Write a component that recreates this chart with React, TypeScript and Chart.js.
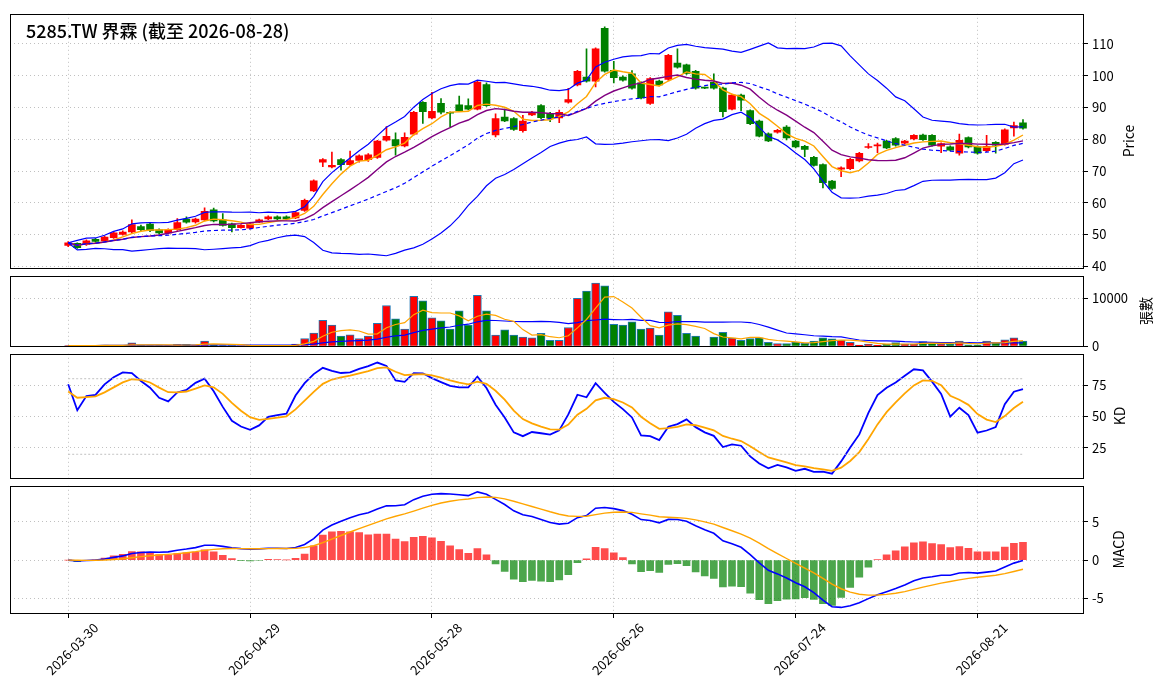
import React, { useEffect, useRef } from 'react';
import { Chart, registerables } from 'chart.js';
Chart.register(...registerables);

const tickLabels = ['2026-03-30', '2026-04-29', '2026-05-28', '2026-06-26', '2026-07-24', '2026-08-21'];
const opens = [46.6,47.2,46.9,48.5,48.0,49.0,50.0,50.8,52.5,53.3,51.5,50.5,51.5,54.9,54.0,54.6,57.8,54.6,53.4,52.2,52.0,53.9,54.9,55.6,55.6,55.2,57.6,63.7,72.8,71.3,73.6,72.0,73.3,73.6,74.3,79.7,79.9,77.9,81.6,91.6,86.7,91.3,88.4,90.8,90.6,89.5,97.2,81.4,87.0,86.5,82.7,87.7,90.6,88.2,86.7,91.7,97.1,99.6,98.3,114.9,101.7,99.6,100.6,97.8,91.3,98.3,98.8,104.0,103.4,101.4,96.2,97.9,96.1,89.5,93.9,89.0,85.7,81.7,82.2,83.8,79.4,77.8,74.3,72.0,66.8,70.6,70.7,73.2,77.4,77.9,79.4,80.2,78.8,80.1,81.3,81.2,77.8,77.6,75.6,80.5,77.6,76.4,79.0,78.4,83.6,85.2];
const closes = [47.4,45.9,48.0,47.8,49.2,50.5,50.8,53.1,51.5,51.2,50.5,51.5,53.8,53.9,54.9,57.3,54.3,52.9,52.2,52.9,53.4,54.6,55.6,54.9,54.9,56.9,60.8,66.9,73.6,71.8,72.0,73.3,74.8,75.1,79.4,80.9,77.9,80.6,88.5,88.7,88.8,88.5,88.2,89.0,89.5,98.0,90.6,86.5,85.8,83.1,85.7,88.5,86.8,86.6,88.5,92.5,101.4,98.3,108.5,101.4,99.4,98.6,96.1,93.0,99.1,97.1,106.4,102.7,100.7,96.1,96.1,96.1,88.7,93.9,92.3,84.9,81.0,79.5,82.8,80.4,77.6,76.8,71.8,66.3,64.5,71.0,73.7,75.6,77.7,78.1,77.3,78.1,79.4,81.2,79.9,78.1,78.6,76.6,79.7,77.6,75.6,77.8,78.1,83.0,84.3,83.5];
const highs = [47.8,47.4,48.3,48.8,49.5,50.9,51.2,54.6,53.0,53.6,51.8,51.8,55.0,55.6,55.2,58.4,58.3,56.6,53.6,53.1,53.6,54.9,55.9,55.9,55.9,57.2,61.2,67.2,73.9,76.0,73.9,76.3,75.1,75.5,79.7,84.0,82.0,82.0,88.8,91.9,94.8,92.8,88.6,93.6,92.7,98.3,97.8,88.0,89.5,86.8,87.5,88.8,90.9,88.5,89.2,96.0,101.7,108.5,108.8,115.4,104.5,100.0,101.6,98.1,99.4,98.6,106.7,108.5,103.7,101.7,96.4,100.6,96.4,94.2,94.2,89.3,86.0,82.0,83.1,84.3,79.7,78.1,74.6,72.3,67.1,71.3,74.0,75.9,78.6,78.8,79.7,80.5,79.7,81.5,81.6,81.5,78.9,77.9,81.6,80.8,77.9,81.2,79.3,83.3,85.4,86.2];
const lows = [46.2,45.6,46.6,47.5,47.8,48.8,49.8,50.5,51.2,50.9,50.2,50.2,51.3,53.6,53.6,54.3,54.0,52.6,50.8,52.0,51.8,53.7,54.7,54.7,54.6,55.0,57.3,63.5,71.4,71.0,70.3,71.8,72.8,73.0,74.0,79.4,75.0,77.6,81.3,85.0,86.4,88.0,84.0,88.7,89.2,89.2,90.3,80.7,85.5,82.8,82.2,87.4,86.5,85.5,85.2,91.4,96.8,98.0,96.5,101.1,97.7,98.3,95.8,92.7,91.0,96.8,98.5,102.4,100.4,95.8,95.9,95.8,87.0,89.2,89.0,84.6,80.7,79.2,81.9,79.8,77.3,74.5,71.5,64.7,64.2,68.2,70.4,72.9,77.1,75.8,77.0,77.8,78.5,79.8,79.6,77.8,75.8,76.3,75.0,77.3,75.3,76.1,75.6,78.1,81.0,83.2];
const volumes = [150,120,130,150,250,150,120,700,200,150,150,150,400,400,200,1060,300,150,120,100,100,100,120,150,150,440,1600,2750,5400,4400,2100,2400,1600,2100,4750,8500,5700,3600,10400,9450,5900,5300,3600,7400,4400,10600,7400,2300,3400,2300,1900,1750,2700,1250,1250,3900,10000,11500,13200,12600,4550,4400,5100,3600,3800,2300,7200,6450,2700,2100,0,1900,2900,1700,1250,1600,1750,800,560,560,870,620,1060,1750,1560,1250,800,250,440,250,440,750,440,440,940,690,440,440,1060,310,310,1060,690,1310,1750,1060];
// starting K / D values carried in from before the visible window
const kdStart = [76, 67];

const FONT = '"Noto Sans CJK TC", "Noto Sans", sans-serif';
const W = 1163;

function sma(a: number[], n: number) {
  return a.map((_, i) => { const s = a.slice(Math.max(0, i - n + 1), i + 1); return s.reduce((p, v) => p + v, 0) / s.length; });
}
function sd(a: number[], n: number) {
  const m = sma(a, n);
  return a.map((_, i) => { const s = a.slice(Math.max(0, i - n + 1), i + 1); return Math.sqrt(s.reduce((p, v) => p + (v - m[i]) ** 2, 0) / s.length); });
}
function ema(a: number[], n: number) {
  const k = 2 / (n + 1); const r: number[] = [];
  a.forEach((v, i) => r.push(i === 0 ? v : r[i - 1] + k * (v - r[i - 1])));
  return r;
}
const xs = closes.map((_, i) => i);
const pts = (a: number[]) => a.map((y, i) => ({ x: i, y }));
const up = closes.map((c, i) => c >= opens[i]);
const cCol = up.map(u => (u ? '#ff0000' : '#008000'));

function frame(title: string, tx: number, extra?: (ctx: CanvasRenderingContext2D, chart: any) => void) {
  return {
    id: 'frame' + title,
    afterDraw(chart: any) {
      const { ctx, chartArea: a } = chart;
      ctx.save();
      ctx.strokeStyle = '#000'; ctx.lineWidth = 1;
      ctx.strokeRect(Math.round(a.left) + 0.5, Math.round(a.top) + 0.5, Math.round(a.right - a.left), Math.round(a.bottom - a.top));
      ctx.fillStyle = '#000'; ctx.font = '14px ' + FONT;
      ctx.translate(tx, (a.top + a.bottom) / 2); ctx.rotate(-Math.PI / 2);
      ctx.textAlign = 'center'; ctx.textBaseline = 'middle';
      ctx.fillText(title, 0, 0);
      ctx.restore();
      if (extra) { ctx.save(); extra(ctx, chart); ctx.restore(); }
    },
  };
}

function xScale(showTicks: boolean) {
  return {
    type: 'linear', min: -6.4, max: 111.6, offset: false, bounds: 'data',
    afterBuildTicks: (s: any) => { s.ticks = [0, 20, 40, 60, 80, 100].map(v => ({ value: v })); },
    afterFit: (s: any) => { s.height = showTicks ? 85 : 0; },
    ticks: { display: false },
    grid: { offset: false, color: '#b0b0b0', lineWidth: 0.8, drawTicks: showTicks, tickLength: 5, tickColor: '#000', tickBorderDash: [], tickWidth: 1 },
    border: { display: false, dash: [1, 3] },
  };
}
function yScale(min: number, max: number, ticks: number[]) {
  return {
    position: 'right', min, max,
    afterBuildTicks: (s: any) => { s.ticks = ticks.map(v => ({ value: v })); },
    afterFit: (s: any) => { s.width = 80; },
    ticks: { color: '#000', font: { family: FONT, size: 13 }, padding: 4, callback: (v: number) => String(v) },
    grid: { color: '#b0b0b0', lineWidth: 0.8, tickLength: 5, tickColor: '#000', tickBorderDash: [], tickWidth: 1 },
    border: { display: false, dash: [1, 3] },
  };
}
const line = (data: number[], color: string, width = 1.3, dash: number[] = []) => ({
  type: 'line', data: pts(data), borderColor: color, borderWidth: width, borderDash: dash, pointRadius: 0, fill: false, order: 0,
});

function baseOpts(ymin: number, ymax: number, ticks: number[], showX: boolean, padBottom: number) {
  return {
    responsive: false, animation: false,
    layout: { padding: { left: 10, right: 0, top: 8, bottom: padBottom } },
    plugins: { legend: { display: false }, tooltip: { enabled: false } },
    scales: { x: xScale(showX), y: yScale(ymin, ymax, ticks) },
  };
}

export default function App() {
  const r1 = useRef<HTMLCanvasElement>(null);
  const r2 = useRef<HTMLCanvasElement>(null);
  const r3 = useRef<HTMLCanvasElement>(null);
  const r4 = useRef<HTMLCanvasElement>(null);

  useEffect(() => {
    Chart.defaults.font.family = FONT;
    const ma5 = sma(closes, 5), ma10 = sma(closes, 10), ma20 = sma(closes, 20), s20 = sd(closes, 20);
    const bbU = ma20.map((m, i) => m + 2 * s20[i]), bbL = ma20.map((m, i) => m - 2 * s20[i]);
    const vma5 = sma(volumes, 5), vma20 = sma(volumes, 20);
    const K: number[] = [], D: number[] = [];
    closes.forEach((c, i) => {
      const lo = Math.min(...lows.slice(Math.max(0, i - 8), i + 1));
      const hi = Math.max(...highs.slice(Math.max(0, i - 8), i + 1));
      const rsv = hi === lo ? 50 : ((c - lo) / (hi - lo)) * 100;
      const pk = i ? K[i - 1] : kdStart[0], pd = i ? D[i - 1] : kdStart[1];
      K.push((2 / 3) * pk + rsv / 3); D.push((2 / 3) * pd + K[i] / 3);
    });
    const e12 = ema(closes, 12), e26 = ema(closes, 26);
    const dif = e12.map((v, i) => v - e26[i]);
    const dea = ema(dif, 9);
    const hist = dif.map((v, i) => 2 * (v - dea[i]));

    const charts: Chart[] = [];
    charts.push(new Chart(r1.current!, {
      type: 'bar',
      data: {
        datasets: [
          { type: 'bar', data: xs.map(i => ({ x: i, y: [lows[i], highs[i]] })), backgroundColor: cCol, barThickness: 1, grouped: false, order: 2 } as any,
          { type: 'bar', data: xs.map(i => ({ x: i, y: [opens[i], closes[i]] })), backgroundColor: cCol, barThickness: 7, minBarLength: 1, grouped: false, order: 1 } as any,
          line(bbU, '#0000ff', 1.2), line(bbL, '#0000ff', 1.2), line(ma20, '#0000ff', 1.2, [4, 3]),
          line(ma10, '#800080', 1.4), line(ma5, '#ffa500', 1.4),
        ],
      },
      options: baseOpts(39.4, 119.5, [40, 50, 60, 70, 80, 90, 100, 110], false, 8) as any,
      plugins: [frame('Price', 1129, (ctx) => {
        ctx.fillStyle = '#000'; ctx.font = '500 18px ' + FONT; ctx.textBaseline = 'middle';
        ctx.fillText('5285.TW 界霖 (截至 2026-08-28)', 26, 29);
      })],
    } as any));
    charts.push(new Chart(r2.current!, {
      type: 'bar',
      data: {
        datasets: [
          { type: 'bar', data: xs.map(i => ({ x: i, y: volumes[i] })), backgroundColor: cCol, borderColor: '#1f77b4', borderWidth: 1, barThickness: 8, grouped: false, order: 1 } as any,
          line(vma5, '#ffa500', 1.2), line(vma20, '#0000ff', 1.2),
        ],
      },
      options: baseOpts(0, 14700, [0, 10000], false, 8) as any,
      plugins: [frame('張數', 1146)],
    } as any));
    charts.push(new Chart(r3.current!, {
      type: 'line',
      data: {
        datasets: [
          line(xs.map(() => 20), '#c0c0c0', 1, [2, 2]), line(xs.map(() => 80), '#c0c0c0', 1, [2, 2]),
          line(D, '#ffa500', 1.8), line(K, '#0000ff', 1.8),
        ],
      },
      options: baseOpts(1, 99.8, [25, 50, 75], false, 8) as any,
      plugins: [frame('KD', 1120)],
    } as any));
    charts.push(new Chart(r4.current!, {
      type: 'bar',
      data: {
        datasets: [
          { type: 'bar', data: xs.map(i => ({ x: i, y: hist[i] })), backgroundColor: hist.map(h => (h >= 0 ? 'rgba(255,0,0,0.7)' : 'rgba(0,128,0,0.7)')), barThickness: 7, grouped: false, order: 2 } as any,
          line(dea, '#ffa500', 1.4), line(dif, '#0000ff', 1.6),
        ],
      },
      options: baseOpts(-6.9, 9.7, [-5, 0, 5], true, 0) as any,
      plugins: [frame('MACD', 1119, (ctx, chart) => {
        const sx = chart.scales.x;
        ctx.fillStyle = '#000'; ctx.font = '13px ' + FONT;
        ctx.textAlign = 'center'; ctx.textBaseline = 'middle';
        tickLabels.forEach((t, k) => {
          const px = sx.getPixelForValue(k * 20);
          ctx.save();
          ctx.translate(px + 4, chart.chartArea.bottom + 36);
          ctx.rotate(-Math.PI / 4);
          ctx.fillText(t, 0, 0);
          ctx.restore();
        });
      })],
    } as any));
    return () => charts.forEach(c => c.destroy());
  }, []);

  const cs = (top: number, h: number): React.CSSProperties => ({ position: 'absolute', left: 0, top, width: W, height: h });
  return (
    <div style={{ position: 'fixed', left: 0, top: 0, width: W, height: 698, background: '#fff' }}>
      <canvas ref={r1} width={W} height={278} style={cs(2, 278)} />
      <canvas ref={r2} width={W} height={94} style={cs(264, 94)} />
      <canvas ref={r3} width={W} height={148} style={cs(342, 148)} />
      <canvas ref={r4} width={W} height={224} style={cs(474, 224)} />
    </div>
  );
}
